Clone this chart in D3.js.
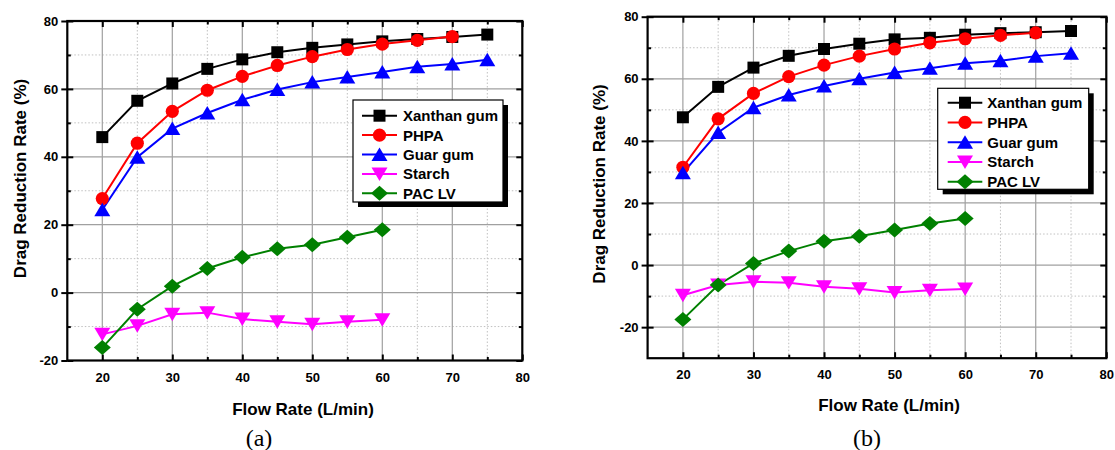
<!DOCTYPE html>
<html>
<head>
<meta charset="utf-8">
<script src="https://cdn.jsdelivr.net/npm/d3@7/dist/d3.min.js"></script>
<style>
  html, body { margin: 0; padding: 0; background: #fff; }
  svg { display: block; }
</style>
</head>
<body>
<svg id="chart" width="1115" height="450"></svg>
<script>
// ---------------- data ----------------
const flowRates = [20, 25, 30, 35, 40, 45, 50, 55, 60, 65, 70, 75];
const seriesNames = ["Xanthan gum", "PHPA", "Guar gum", "Starch", "PAC LV"];
const xTickLabels = [20, 30, 40, 50, 60, 70, 80];
const yTickLabels = [-20, 0, 20, 40, 60, 80];

// panel (a)
const xanthanA = [45.8, 56.5, 61.6, 65.9, 68.7, 70.8, 72.1, 73.1, 74.0, 74.7, 75.3, 76.0];
const phpaA    = [27.7, 44.0, 53.4, 59.6, 63.7, 66.9, 69.5, 71.6, 73.2, 74.3, 75.4];
const guarA    = [24.4, 39.9, 48.3, 52.9, 56.8, 59.8, 62.0, 63.5, 65.0, 66.5, 67.3, 68.6];
const starchA  = [-12.3, -9.8, -6.4, -5.9, -7.8, -8.6, -9.3, -8.6, -8.0];
const pacA     = [-16.2, -4.9, 1.9, 7.1, 10.4, 12.9, 14.1, 16.3, 18.5];

// panel (b)
const xanthanB = [47.6, 57.4, 63.6, 67.4, 69.6, 71.3, 72.7, 73.2, 74.2, 74.7, 75.0, 75.4];
const phpaB    = [31.5, 47.1, 55.3, 60.7, 64.4, 67.3, 69.6, 71.6, 72.9, 74.0, 74.8];
const guarB    = [29.7, 42.7, 50.7, 54.8, 57.7, 60.0, 62.0, 63.4, 65.0, 65.8, 67.3, 68.2];
const starchB  = [-9.7, -6.4, -5.4, -5.7, -7.0, -7.6, -8.8, -8.1, -7.7];
const pacB     = [-17.5, -6.4, 0.5, 4.5, 7.7, 9.3, 11.3, 13.4, 15.0];

// ---------------- styles ----------------
const colors = ["#000000", "#ff0000", "#0000ff", "#ff00ff", "#008000"];
const shapes = ["square", "circle", "triUp", "triDown", "diamond"];
const SANS = "'Liberation Sans', Arial, sans-serif";
const SERIF = "'Liberation Serif', 'Times New Roman', serif";

function markerPath(shape) {
  switch (shape) {
    case "square": return "M-6,-6H6V6H-6Z";
    case "circle": return "M6.6,0A6.6,6.6 0 1,1 -6.6,0A6.6,6.6 0 1,1 6.6,0Z";
    case "triUp": return "M0,-7L8,6.5H-8Z";
    case "triDown": return "M0,7L8,-6.5H-8Z";
    case "diamond": return "M0,-7.5L8.5,0L0,7.5L-8.5,0Z";
  }
}

const svg = d3.select("#chart");

function drawPanel(cfg) {
  const x = d3.scaleLinear().domain([15, 80]).range(cfg.xRange);
  const y = d3.scaleLinear().domain(cfg.yDomain).range(cfg.yRange);
  const g = svg.append("g");
  const [x0, x1] = cfg.xRange;
  const [yb, yt] = cfg.yRange;

  // minor grid (dotted)
  const xMinor = d3.range(25, 80, 10);
  const yMinor = d3.range(-10, 80, 20).filter(v => v > cfg.yDomain[0]);
  g.selectAll(".gxm").data(xMinor).enter().append("line")
    .attr("x1", d => x(d)).attr("x2", d => x(d)).attr("y1", yb).attr("y2", yt)
    .attr("stroke", "#c0c0c0").attr("stroke-width", 1).attr("stroke-dasharray", "1.5,2");
  g.selectAll(".gym").data(yMinor).enter().append("line")
    .attr("y1", d => y(d)).attr("y2", d => y(d)).attr("x1", x0).attr("x2", x1)
    .attr("stroke", "#c0c0c0").attr("stroke-width", 1).attr("stroke-dasharray", "1.5,2");
  // major grid (solid)
  const xMajor = [20, 30, 40, 50, 60, 70];
  const yMajor = yTickLabels.filter(v => v > cfg.yDomain[0] && v < cfg.yDomain[1]);
  g.selectAll(".gxM").data(xMajor).enter().append("line")
    .attr("x1", d => x(d)).attr("x2", d => x(d)).attr("y1", yb).attr("y2", yt)
    .attr("stroke", "#a0a0a0").attr("stroke-width", 1.2);
  g.selectAll(".gyM").data(yMajor).enter().append("line")
    .attr("y1", d => y(d)).attr("y2", d => y(d)).attr("x1", x0).attr("x2", x1)
    .attr("stroke", "#a0a0a0").attr("stroke-width", 1.2);

  // axes with inward ticks (all four sides)
  const tickFmt = d => String(d); // plain hyphen-minus, as in the original
  const bottom = d3.axisBottom(x).tickValues(xTickLabels).tickSize(-6).tickPadding(12).tickFormat(tickFmt);
  const top = d3.axisTop(x).tickValues(xTickLabels).tickSize(-6).tickFormat("");
  const left = d3.axisLeft(y).tickValues(yTickLabels).tickSize(6).tickPadding(3).tickFormat(tickFmt);
  const right = d3.axisRight(y).tickValues(yTickLabels).tickSize(-6).tickFormat("");
  const bottomMinor = d3.axisBottom(x).tickValues(xMinor).tickSize(-3.5).tickFormat("");
  const topMinor = d3.axisTop(x).tickValues(xMinor).tickSize(-3.5).tickFormat("");
  const leftMinor = d3.axisLeft(y).tickValues(yMinor).tickSize(-3.5).tickFormat("");
  const rightMinor = d3.axisRight(y).tickValues(yMinor).tickSize(-3.5).tickFormat("");
  const leftIn = d3.axisLeft(y).tickValues(yTickLabels).tickSize(-6).tickFormat("");

  function styleAxis(sel) {
    sel.select(".domain").remove();
    sel.selectAll(".tick line").attr("stroke", "#000").attr("stroke-width", 2);
    sel.selectAll("text").attr("font-family", SANS).attr("font-weight", "bold")
      .attr("font-size", 13).attr("fill", "#000");
  }
  g.append("g").attr("transform", `translate(0,${yb})`).call(bottom).call(styleAxis);
  g.append("g").attr("transform", `translate(0,${yt})`).call(top).call(styleAxis);
  g.append("g").attr("transform", `translate(${x0},0)`).call(left).call(styleAxis);
  g.append("g").attr("transform", `translate(${x0},0)`).call(leftIn).call(styleAxis);
  g.append("g").attr("transform", `translate(${x1},0)`).call(right).call(styleAxis);
  g.append("g").attr("transform", `translate(0,${yb})`).call(bottomMinor).call(styleAxis);
  g.append("g").attr("transform", `translate(0,${yt})`).call(topMinor).call(styleAxis);
  g.append("g").attr("transform", `translate(${x0},0)`).call(leftMinor).call(styleAxis);
  g.append("g").attr("transform", `translate(${x1},0)`).call(rightMinor).call(styleAxis);

  // frame
  g.append("rect").attr("x", x0).attr("y", yt).attr("width", x1 - x0).attr("height", yb - yt)
    .attr("fill", "none").attr("stroke", "#000").attr("stroke-width", 2.2);

  // series
  const line = d3.line().x(d => x(d[0])).y(d => y(d[1]));
  cfg.series.forEach((vals, i) => {
    const pts = vals.map((v, k) => [flowRates[k], v]);
    g.append("path").datum(pts).attr("d", line)
      .attr("fill", "none").attr("stroke", colors[i]).attr("stroke-width", 2);
  });
  cfg.series.forEach((vals, i) => {
    const pts = vals.map((v, k) => [flowRates[k], v]);
    g.selectAll(null).data(pts).enter().append("path")
      .attr("d", markerPath(shapes[i]))
      .attr("transform", d => `translate(${x(d[0])},${y(d[1])})`)
      .attr("fill", colors[i]);
  });

  // legend
  const L = cfg.legend;
  g.append("rect").attr("x", L.x + 5).attr("y", L.y + 5).attr("width", L.w).attr("height", L.h)
    .attr("fill", "#000");
  g.append("rect").attr("x", L.x).attr("y", L.y).attr("width", L.w).attr("height", L.h)
    .attr("fill", "#fff").attr("stroke", "#000").attr("stroke-width", 1.2);
  seriesNames.forEach((name, i) => {
    const ry = L.row0 + i * L.dy;
    g.append("line").attr("x1", L.lx0).attr("x2", L.lx1).attr("y1", ry).attr("y2", ry)
      .attr("stroke", colors[i]).attr("stroke-width", 2);
    g.append("path").attr("d", markerPath(shapes[i]))
      .attr("transform", `translate(${(L.lx0 + L.lx1) / 2},${ry})`).attr("fill", colors[i]);
    g.append("text").attr("x", L.tx).attr("y", ry).attr("dy", "0.36em")
      .attr("font-family", SANS).attr("font-weight", "bold").attr("font-size", 15)
      .text(name);
  });

  // axis titles
  g.append("text").attr("x", cfg.xTitle[0]).attr("y", cfg.xTitle[1]).attr("text-anchor", "middle")
    .attr("font-family", SANS).attr("font-weight", "bold").attr("font-size", 17)
    .text("Flow Rate (L/min)");
  g.append("text").attr("transform", `translate(${cfg.yTitle[0]},${cfg.yTitle[1]}) rotate(-90)`)
    .attr("text-anchor", "middle")
    .attr("font-family", SANS).attr("font-weight", "bold").attr("font-size", 17)
    .text("Drag Reduction Rate (%)");
  // panel caption
  g.append("text").attr("x", cfg.caption[0]).attr("y", cfg.caption[1]).attr("text-anchor", "middle")
    .attr("font-family", SERIF).attr("font-size", 24)
    .text(cfg.captionText);
}

drawPanel({
  xRange: [67.3, 522.3], yDomain: [-20, 80], yRange: [360.5, 21],
  series: [xanthanA, phpaA, guarA, starchA, pacA],
  legend: { x: 353, y: 100, w: 150, h: 102, row0: 115.7, dy: 19.4, lx0: 362, lx1: 397, tx: 403 },
  xTitle: [303, 415], yTitle: [26, 178.5], caption: [259, 446], captionText: "(a)"
});
drawPanel({
  xRange: [647.6, 1106.3], yDomain: [-30, 80], yRange: [358.2, 16.7],
  series: [xanthanB, phpaB, guarB, starchB, pacB],
  legend: { x: 937.7, y: 88.3, w: 151, h: 101, row0: 102.7, dy: 19.75, lx0: 947.7, lx1: 982.3, tx: 987.3 },
  xTitle: [889, 411], yTitle: [605, 184], caption: [867, 446], captionText: "(b)"
});
</script>
</body>
</html>
